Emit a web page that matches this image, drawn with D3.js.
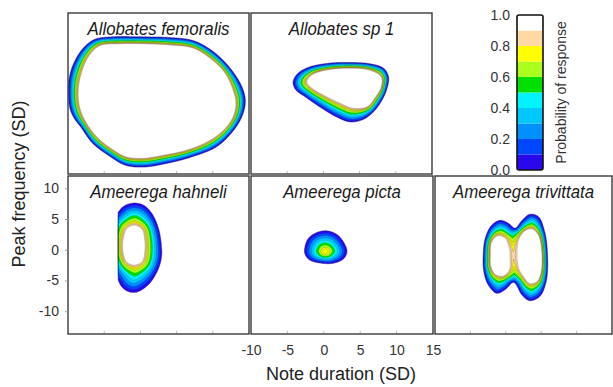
<!DOCTYPE html>
<html>
<head>
<meta charset="utf-8">
<script src="https://cdn.jsdelivr.net/npm/d3@7"></script>
<style>
  html, body { margin: 0; padding: 0; background: #fff; }
  svg { display: block; }
  .tick text { font-family: "Liberation Sans", Arial, sans-serif; }
</style>
</head>
<body>
<svg id="chart" width="613" height="387"></svg>
<script>
// ---- Probability-of-response bands ----
const levels = [0, 0.1, 0.2, 0.3, 0.4, 0.5, 0.6, 0.7, 0.8, 0.9];
const bandColors = ["#2a08ee", "#0046ff", "#0090ff", "#00c8ff", "#00f4ff",
                    "#00e000", "#aaff1e", "#ffff00", "#ffd9a3", "#ffffff"];
const lineLevels = [0, 0.1, 0.2, 0.3, 0.4, 0.5, 0.6, 0.7, 0.75, 0.8, 0.85, 0.9];

// ---- Axes ----
const durationDomain = [-10, 15];
const frequencyDomain = [-13.7, 12];
const durationTicks = [-10, -5, 0, 5, 10, 15];
const frequencyTicks = [-10, -5, 0, 5, 10];
const legendTicks = [0, 0.2, 0.4, 0.6, 0.8, 1.0];

// ---- Response surfaces: outer edge (p = 0) and inner rings (p = innerLevel), in SD units ----
const speciesNames = ["Allobates femoralis", "Allobates sp 1", "Ameerega hahneli",
                      "Ameerega picta", "Ameerega trivittata"];

const femoralisOuter = [[-9.8,1.8],[-9.2,4.0],[-7.9,6.4],[-6.3,7.8],[-3.9,8.2],[-0.1,8.2],
  [3.8,8.1],[7.3,7.6],[10.0,5.9],[12.4,3.2],[14.0,0.3],[14.5,-1.9],[14.2,-4.0],[13.1,-6.4],
  [10.6,-9.3],[7.3,-10.9],[3.7,-12.0],[0.4,-12.6],[-2.1,-12.3],[-4.2,-10.9],[-6.6,-8.8],
  [-8.3,-6.1],[-9.1,-4.9],[-9.7,-3.4],[-9.95,-0.8]];
const femoralisInner = [[[-8.4,-3.0],[-8.6,-0.8],[-8.3,1.8],[-7.2,5.0],[-5.6,6.8],[-2.8,7.1],
  [0.4,7.1],[4.1,6.9],[7.3,6.4],[9.6,4.8],[11.7,2.4],[12.8,-0.3],[13.2,-2.4],[12.8,-4.6],
  [11.5,-6.7],[9.2,-8.6],[6.4,-9.9],[3.2,-10.7],[0.4,-11.2],[-1.9,-11.0],[-3.7,-9.9],
  [-6.0,-7.8],[-7.7,-5.1]]];

const sp1Outer = [[-4.2,1.0],[-3.5,2.4],[-1.9,3.4],[0.9,4.0],[3.7,4.1],[6.4,3.9],[8.3,3.2],
  [9.0,1.8],[8.8,0.0],[8.1,-1.9],[6.9,-3.8],[5.5,-5.0],[3.7,-5.4],[1.8,-4.6],[-0.5,-3.0],
  [-2.5,-1.4],[-3.8,-0.3]];
const sp1Inner = [[[-2.3,1.0],[-1.6,2.1],[0.0,2.8],[3.2,3.2],[6.4,2.9],[8.0,1.8],[8.0,0.2],
  [7.1,-1.6],[6.0,-3.0],[4.1,-3.2],[2.3,-2.4],[0.0,-1.1],[-1.6,0.0]]];

const hahneliOuter = [[-4.5,1.6],[-4.1,4.5],[-3.1,6.1],[-2.3,7.1],[-1.0,7.6],[0.4,7.3],[1.6,5.9],
  [2.5,3.5],[2.9,0.8],[2.9,-1.4],[2.3,-3.6],[1.1,-5.7],[-0.5,-6.9],[-1.7,-6.8],[-2.6,-6.0],
  [-3.1,-4.9],[-3.9,-2.5],[-4.5,0.0]];
const hahneliInner = [[[-0.9,4.0],[0.2,3.4],[0.6,1.6],[0.6,-0.4],[0.2,-2.0],[-0.9,-2.5],
  [-1.9,-2.0],[-2.4,-0.4],[-2.4,1.6],[-1.9,3.4]]];

const pictaOuter = [[-2.6,0.5],[-2.1,1.9],[-1.0,2.8],[0.4,3.1],[1.8,2.5],[2.8,1.1],[3.2,-0.3],
  [2.7,-1.5],[1.3,-2.2],[-0.3,-2.2],[-1.9,-1.7],[-2.6,-0.7]];
const pictaInner = [[[-0.4,-0.3],[-0.1,0.3],[0.5,0.3],[0.85,-0.2],[0.5,-0.8],[-0.1,-0.8]]];

const trivittataOuter = [[-3.2,-1.1],[-2.9,1.9],[-2.0,4.0],[-0.8,4.8],[0.4,4.3],[1.3,3.5],
  [2.3,4.8],[3.4,5.8],[4.6,5.4],[5.5,2.9],[5.9,-1.1],[5.7,-5.2],[4.8,-7.6],[3.4,-8.3],
  [2.3,-7.4],[1.1,-5.3],[-0.1,-6.5],[-1.3,-7.1],[-2.5,-5.7],[-3.1,-3.6]];
const trivittataInner = [
  [[-2.2,-1.1],[-2.0,1.3],[-1.1,2.3],[-0.1,1.9],[0.5,0.2],[0.6,-1.4],[0.5,-3.3],[-0.4,-4.3],
   [-1.5,-4.0],[-2.1,-2.8]],
  [[1.6,-1.1],[1.8,1.6],[2.7,3.1],[3.7,3.4],[4.6,2.4],[5.1,-0.3],[5.0,-3.6],[4.4,-5.2],
   [3.4,-5.5],[2.5,-4.4],[1.8,-3.0]]];

// probability on the inner rings and at the surface maximum
const innerLevels = [0.9, 0.9, 0.9, 0.7, 0.9];
const peakLevels = [1.0, 1.0, 1.0, 0.78, 1.0];
// lowest note duration covered by each surface
const durationMins = [-10, -10, -3.1, -10, -10];

// ---- Layout ----
const svg = d3.select("#chart");
const defs = svg.append("defs");
const panelRects = [
  [68, 13, 249, 174], [251, 13, 432, 174],
  [68, 176, 249, 334], [251, 176, 433, 334], [435, 176, 612, 334]
];
const outers = [femoralisOuter, sp1Outer, hahneliOuter, pictaOuter, trivittataOuter];
const inners = [femoralisInner, sp1Inner, hahneliInner, pictaInner, trivittataInner];

// Trace a ring as a closed Catmull-Rom curve and return points along it
const ringCurve = d3.line().curve(d3.curveCatmullRomClosed.alpha(0.5));
function smoothRing(ring, n = 160) {
  const k = 20;
  const el = defs.append("path").attr("d", ringCurve(ring.map(p => [p[0] * k, p[1] * k]))).node();
  const len = el.getTotalLength();
  const pts = d3.range(n).map(m => {
    const q = el.getPointAtLength(len * m / n);
    return [q.x / k, q.y / k];
  });
  el.remove();
  return pts;
}

function segDist(p, a, b) {
  const dx = b[0] - a[0], dy = b[1] - a[1];
  const l2 = dx * dx + dy * dy;
  let t = l2 ? ((p[0] - a[0]) * dx + (p[1] - a[1]) * dy) / l2 : 0;
  t = Math.max(0, Math.min(1, t));
  const ex = p[0] - (a[0] + t * dx), ey = p[1] - (a[1] + t * dy);
  return ex * ex + ey * ey;
}
function ringDist(ring, p) {
  let d = Infinity;
  for (let k = 0, n = ring.length; k < n; k++) {
    const s = segDist(p, ring[k], ring[(k + 1) % n]);
    if (s < d) d = s;
  }
  return Math.sqrt(d);
}

const step = 0.07;
const nx = Math.floor((durationDomain[1] - durationDomain[0]) / step) + 1;
const ny = Math.floor((frequencyDomain[1] - frequencyDomain[0]) / step) + 1;

speciesNames.forEach((name, i) => {
  const [x0, y0, x1, y1] = panelRects[i];
  const sx = d3.scaleLinear().domain(durationDomain).range([x0, x1]);
  const sy = d3.scaleLinear().domain(frequencyDomain).range([y1, y0]);

  const outer = smoothRing(outers[i]);
  const innerRings = inners[i].map(r => smoothRing(r));
  const L = innerLevels[i], P = peakLevels[i];
  const [[bx0, bx1], [by0, by1]] = [d3.extent(outer, p => p[0]), d3.extent(outer, p => p[1])];

  function surface(p) {
    if (p[0] < durationMins[i]) return -10;
    if (p[0] < bx0 - 0.5 || p[0] > bx1 + 0.5 || p[1] < by0 - 0.5 || p[1] > by1 + 0.5) return -1;
    const dO = ringDist(outer, p);
    if (!d3.polygonContains(outer, p)) return -dO;
    let inside = false, dI = Infinity;
    for (const ring of innerRings) {
      if (d3.polygonContains(ring, p)) inside = true;
      dI = Math.min(dI, ringDist(ring, p));
    }
    if (inside) return L + (P - L) * Math.min(1, dI / 0.4);
    return L * dO / (dO + dI);
  }

  // sample the surface on a regular grid (row 0 = top)
  const values = new Float64Array(nx * ny);
  for (let j = 0; j < ny; j++) {
    const fy = frequencyDomain[1] - j * step;
    for (let k = 0; k < nx; k++) {
      values[k + j * nx] = surface([durationDomain[0] + k * step, fy]);
    }
  }

  const path = d3.geoPath(d3.geoTransform({
    point(cx, cy) {
      this.stream.point(sx(durationDomain[0] + (cx - 0.5) * step),
                        sy(frequencyDomain[1] - (cy - 0.5) * step));
    }
  }));

  defs.append("clipPath").attr("id", "clip" + i)
    .append("rect").attr("x", x0).attr("y", y0).attr("width", x1 - x0).attr("height", y1 - y0);

  const g = svg.append("g").attr("clip-path", `url(#clip${i})`);

  const bands = d3.contours().size([nx, ny]).thresholds(levels)(values);
  g.selectAll("path.band").data(bands).join("path")
    .attr("class", "band")
    .attr("d", path)
    .attr("fill", d => bandColors[levels.indexOf(d.value)]);

  const lines = d3.contours().size([nx, ny]).thresholds(lineLevels)(values);
  g.selectAll("path.iso").data(lines).join("path")
    .attr("class", "iso")
    .attr("d", path)
    .attr("fill", "none")
    .attr("stroke", d => d.value === 0 ? "#101060" : "#222")
    .attr("stroke-width", d => d.value === 0 ? 0.8 : 0.4)
    .attr("stroke-opacity", d => d.value === 0 ? 0.6 : d.value >= 0.7 ? 0.55 : 0.35);

  // faint inner ticks along the bottom edge
  g.selectAll("line.mt").data(durationTicks.slice(1, -1)).join("line")
    .attr("x1", d => sx(d)).attr("x2", d => sx(d))
    .attr("y1", y1).attr("y2", y1 - 3)
    .attr("stroke", "#bbb").attr("stroke-width", 1);

  // species title on a white box
  const cx = (x0 + x1) / 2, base = y0 + 22;
  const tg = svg.append("g").attr("transform", `translate(${cx},${base}) scale(0.885,1)`);
  const title = tg.append("text")
    .attr("text-anchor", "middle")
    .style("font-family", "'Liberation Sans', Arial, sans-serif")
    .style("font-style", "italic")
    .style("font-size", "19px")
    .attr("fill", "#1a1a1a")
    .text(name);
  const bb = title.node().getBBox();
  tg.insert("rect", "text")
    .attr("x", bb.x - 1).attr("y", -15)
    .attr("width", bb.width + 2).attr("height", 16)
    .attr("fill", "#fff");

  // frame
  svg.append("rect")
    .attr("x", x0).attr("y", y0).attr("width", x1 - x0).attr("height", y1 - y0)
    .attr("fill", "none").attr("stroke", "#3a3a3a").attr("stroke-width", 1.4);

  // labelled axes on the lower-left and lower-middle panels
  if (i === 2) {
    const ax = svg.append("g").attr("transform", `translate(${x0},0)`)
      .call(d3.axisLeft(sy).tickValues(frequencyTicks).tickFormat(d => String(d))
            .tickSizeInner(3).tickSizeOuter(0).tickPadding(6));
    ax.select(".domain").remove();
    ax.selectAll(".tick line").attr("stroke", "#999");
    ax.selectAll(".tick text").attr("fill", "#333").style("font-size", "14px");
  }
  if (i === 3) {
    const ax = svg.append("g").attr("transform", `translate(0,${y1})`)
      .call(d3.axisBottom(sx).tickValues(durationTicks).tickFormat(d => String(d))
            .tickSizeInner(0).tickSizeOuter(0).tickPadding(11));
    ax.select(".domain").remove();
    ax.selectAll(".tick text").attr("fill", "#333").style("font-size", "14px");
  }
});

// ---- Axis titles ----
svg.append("text")
  .attr("transform", "translate(25,184) rotate(-90)")
  .attr("text-anchor", "middle")
  .style("font-family", "'Liberation Sans', Arial, sans-serif")
  .style("font-size", "18px").attr("fill", "#222")
  .text("Peak frequency (SD)");
svg.append("text")
  .attr("x", 341).attr("y", 380)
  .attr("text-anchor", "middle")
  .style("font-family", "'Liberation Sans', Arial, sans-serif")
  .style("font-size", "18px").attr("fill", "#222")
  .text("Note duration (SD)");

// ---- Colour bar ----
const ly = d3.scaleLinear().domain([0, 1]).range([170, 15]);
const lx0 = 517, lw = 26;
svg.append("g").selectAll("rect").data(levels).join("rect")
  .attr("x", lx0).attr("y", d => ly(d + 0.1))
  .attr("width", lw).attr("height", d => ly(d) - ly(d + 0.1))
  .attr("fill", (d, k) => bandColors[k]);
svg.append("rect")
  .attr("x", lx0).attr("y", ly(1)).attr("width", lw).attr("height", ly(0) - ly(1))
  .attr("rx", 2).attr("fill", "none").attr("stroke", "#111").attr("stroke-width", 1.6);
const lax = svg.append("g").attr("transform", `translate(${lx0},0)`)
  .call(d3.axisLeft(ly).tickValues(legendTicks).tickFormat(d3.format(".1f"))
        .tickSizeInner(0).tickSizeOuter(0).tickPadding(7));
lax.select(".domain").remove();
lax.selectAll(".tick text").attr("fill", "#333").style("font-size", "14px");
svg.append("text")
  .attr("transform", `translate(566,${ly(0.5)}) rotate(-90)`)
  .attr("text-anchor", "middle")
  .style("font-family", "'Liberation Sans', Arial, sans-serif")
  .style("font-size", "14px").attr("fill", "#333")
  .text("Probability of response");
</script>
</body>
</html>
